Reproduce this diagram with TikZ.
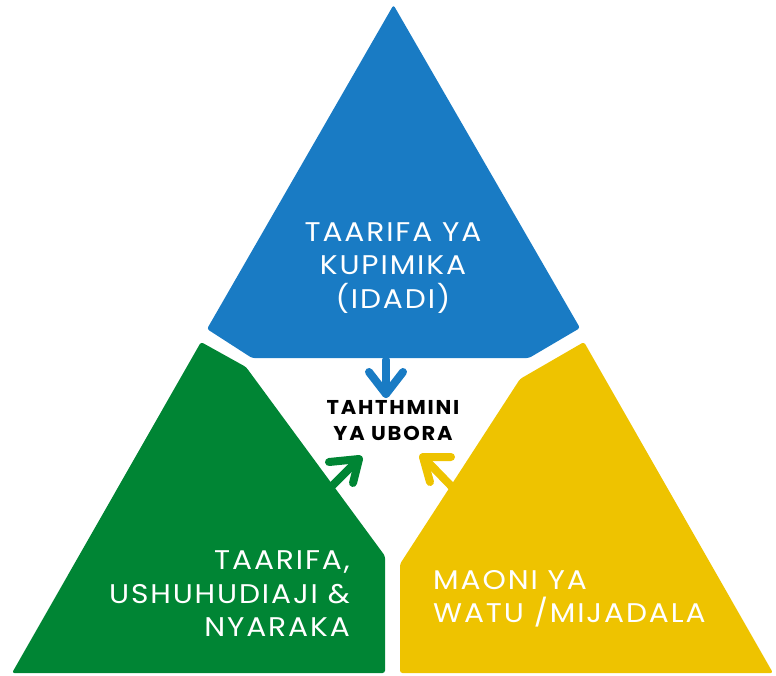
\documentclass[tikz,border=0pt]{standalone}
\usepackage{fontspec}
\usetikzlibrary{calc}
\setmainfont[LetterSpace=7,FakeStretch=1.1]{Poppins}
\newfontfamily\boldpop[LetterSpace=9,FakeStretch=1.05]{Poppins Bold}
\definecolor{cblue}{RGB}{25,123,196}
\definecolor{cgreen}{RGB}{0,133,52}
\definecolor{cyellow}{RGB}{238,195,0}
\begin{document}
\begin{tikzpicture}[x=1pt,y=-1pt,
  panel/.style={rounded corners=2.5pt},
  lbl/.style={text=white,font=\fontsize{27}{33.5}\selectfont,inner sep=0pt},
  arrowline/.style={line width=8pt,line cap=round,line join=round}]
\useasboundingbox (0,0) rectangle (776,675);
% panels
\fill[cblue,panel] (393.5,5) -- (580,328) -- (529,358) -- (252,358) -- (207,329) -- cycle;
\fill[cgreen,panel] (201,342) -- (246,367) -- (385,556) -- (385,673) -- (12,673) -- cycle;
\fill[cyellow,panel] (584,342) -- (773,673) -- (400,673) -- (400,564) -- (520,379) -- cycle;
% labels
\node[lbl,align=center] (tblue) at (393,268) {TAARIFA YA\\KUPIMIKA\\(IDADI)};
\node[lbl,align=right,anchor=east] (tgreen) at (350,594) {TAARIFA,\\USHUHUDIAJI \&\\NYARAKA};
\node[lbl,align=left,anchor=west] (tyellow) at (433,599) {MAONI YA\\WATU /MIJADALA};
\node[inner sep=0pt,align=center,font=\boldpop\fontsize{20}{26}\selectfont] (center) at (393,421) {TAHTHMINI\\YA UBORA};
% arrows
\coordinate (bS) at (386,360);
\coordinate (bT) at (386,394);
\coordinate (gS) at (328,490);
\coordinate (gT) at (359,459);
\coordinate (yS) at (455,490);
\coordinate (yT) at (423,457);
\draw[cblue,arrowline] (bS) -- (bT);
\draw[cblue,arrowline] ($(bT)+(-17,-22)$) -- (bT) -- ($(bT)+(17,-22)$);
\draw[cgreen,arrowline] (gS) -- (gT);
\draw[cgreen,arrowline] ($(gT)+(-30,3)$) -- (gT) -- ($(gT)+(-6,24)$);
\draw[cyellow,arrowline] (yS) -- (yT);
\draw[cyellow,arrowline] ($(yT)+(28,0)$) -- (yT) -- ($(yT)+(7,25)$);
\end{tikzpicture}
\end{document}
